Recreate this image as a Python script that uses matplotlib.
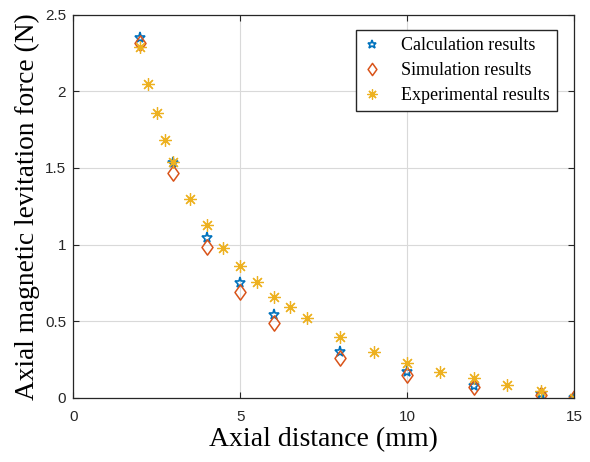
import matplotlib.pyplot as plt
from matplotlib.path import Path

# =========================
# Style
# =========================
FIG_W, FIG_H, DPI = 5.9, 4.62, 100
SERIF = ["Liberation Serif", "DejaVu Serif"]
SANS = ["Liberation Sans", "DejaVu Sans"]

C_CALC = "#0072BD"
C_SIM = "#D95319"
C_EXP = "#EDB120"

# MATLAB-like diamond (a bit taller than wide)
DIAMOND = Path([(0, 1), (0.72, 0), (0, -1), (-0.72, 0), (0, 1)],
               [Path.MOVETO, Path.LINETO, Path.LINETO, Path.LINETO, Path.CLOSEPOLY])

# =========================
# Data
# =========================
calc_x = [2, 3, 4, 5, 6, 8, 10, 12, 14, 15]
calc_y = [2.35, 1.53, 1.04, 0.75, 0.54, 0.30, 0.17, 0.076, 0.026, 0.0]

sim_x = [2, 3, 4, 5, 6, 8, 10, 12, 14, 15]
sim_y = [2.315, 1.47, 0.985, 0.69, 0.49, 0.26, 0.15, 0.07, 0.02, 0.0]

exp_x = [2, 2.25, 2.5, 2.75, 3, 3.5, 4, 4.5, 5, 5.5, 6, 6.5, 7,
         8, 9, 10, 11, 12, 13, 14, 15]
exp_y = [2.29, 2.05, 1.86, 1.68, 1.54, 1.30, 1.13, 0.98, 0.86, 0.757,
         0.66, 0.59, 0.52, 0.40, 0.30, 0.23, 0.17, 0.13, 0.085, 0.044, 0.0]

x_ticks = [0, 5, 10, 15]
y_ticks = [0, 0.5, 1, 1.5, 2, 2.5]
y_tick_labels = ["0", "0.5", "1", "1.5", "2", "2.5"]

# =========================
# Plot
# =========================
fig, ax = plt.subplots(figsize=(FIG_W, FIG_H), dpi=DPI)

ax.plot(calc_x, calc_y, linestyle="None", marker="*", markersize=8,
        markerfacecolor="none", markeredgecolor=C_CALC, markeredgewidth=1.2,
        label="Calculation results")
ax.plot(sim_x, sim_y, linestyle="None", marker=DIAMOND, markersize=11,
        markerfacecolor="none", markeredgecolor=C_SIM, markeredgewidth=1.1,
        label="Simulation results")
ax.plot(exp_x, exp_y, linestyle="None", marker=(8, 2, 0), markersize=9,
        markerfacecolor="none", markeredgecolor=C_EXP, markeredgewidth=0.9,
        label="Experimental results")

ax.set_xlim(0, 15)
ax.set_ylim(0, 2.5)
ax.set_xticks(x_ticks)
ax.set_yticks(y_ticks)
ax.set_yticklabels(y_tick_labels)

for lbl in ax.get_xticklabels() + ax.get_yticklabels():
    lbl.set_family(SANS)
    lbl.set_fontsize(11)
    lbl.set_color("#262626")

ax.tick_params(direction="in", top=True, right=True, length=4, width=0.8,
               colors="#262626")
ax.tick_params(axis="x", pad=9)
ax.tick_params(axis="y", pad=5)
ax.grid(True, color="#d9d9d9", linewidth=0.8)
ax.set_axisbelow(True)
for spine in ax.spines.values():
    spine.set_color("#262626")
    spine.set_linewidth(0.9)

ax.set_xlabel("Axial distance (mm)", family=SERIF, fontsize=20, labelpad=2)
ax.set_ylabel("Axial magnetic levitation force (N)", family=SERIF,
              fontsize=19.7, labelpad=4)

ax.legend(loc="upper right", bbox_to_anchor=(0.966, 0.961),
          prop={"family": SERIF, "size": 13}, frameon=True, fancybox=False,
          edgecolor="#262626", framealpha=1, handlelength=1.0,
          handletextpad=1.1, borderpad=0.4, labelspacing=0.45,
          borderaxespad=0.0, markerscale=0.8)

fig.subplots_adjust(left=0.124, right=0.973, bottom=0.139, top=0.968)
fig.savefig("out.png", dpi=DPI)
